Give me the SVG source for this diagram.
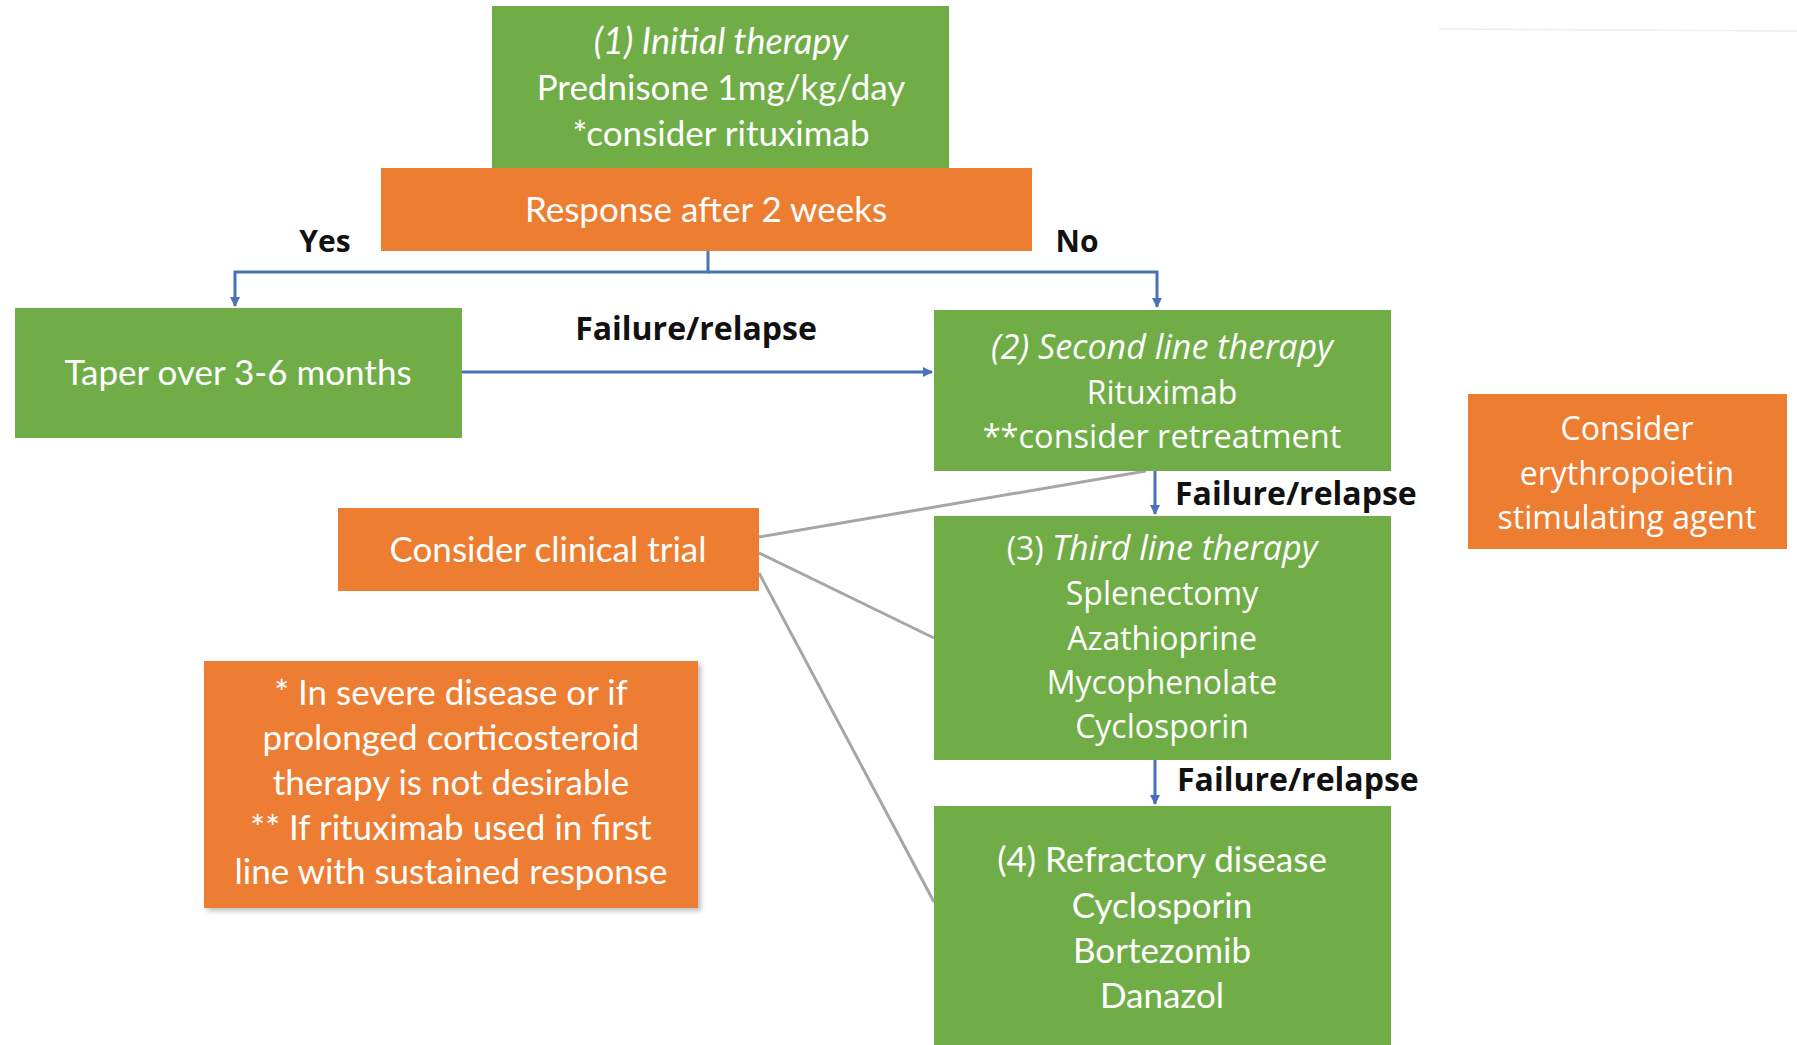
<svg xmlns="http://www.w3.org/2000/svg" width="1797" height="1045" viewBox="0 0 1797 1045">
<defs>
<style>
.g{fill:#70AD47}
.o{fill:#ED7D31}
.c{font-family:Lato,"Liberation Sans",sans-serif;fill:#fff;text-anchor:middle}
.s{font-family:"Open Sans","Liberation Sans",sans-serif;fill:#fff;text-anchor:middle}
.b{font-family:"Open Sans","Liberation Sans",sans-serif;font-weight:bold;fill:#111;}
.i{font-style:italic}
.con{stroke:#4A72B8;stroke-width:3;fill:none}
.gr{stroke:#A6A6A6;stroke-width:3;fill:none}
</style>
<marker id="ah" viewBox="0 0 10 10" refX="9" refY="5" markerWidth="3.4" markerHeight="3.4" orient="auto">
<path d="M0,0 L10,5 L0,10 z" fill="#4A72B8"/>
</marker>
<filter id="sh" x="-5%" y="-5%" width="115%" height="115%">
<feDropShadow dx="3" dy="3" stdDeviation="2.5" flood-color="#000" flood-opacity="0.25"/>
</filter>
</defs>
<rect width="1797" height="1045" fill="#fff"/>
<line x1="1439" y1="29" x2="1797" y2="31" stroke="#EEEEEE" stroke-width="1.5"/>

<g id="connectors">
<path class="con" d="M708,251 V272 H235 V306" marker-end="url(#ah)"/>
<path class="con" d="M708,272 H1157 V307" marker-end="url(#ah)"/>
<path class="con" d="M462,372 H932" marker-end="url(#ah)"/>
<path class="con" d="M1155,471 V514" marker-end="url(#ah)"/>
<path class="con" d="M1155,760 V804" marker-end="url(#ah)"/>
<path class="gr" d="M759,537 L1146,471"/>
<path class="gr" d="M759,553 L934,638"/>
<path class="gr" d="M759,573 L934,902"/>
<text class="b" x="325" y="252" font-size="30" text-anchor="middle">Yes</text>
<text class="b" x="1077" y="252" font-size="30" text-anchor="middle">No</text>
<text class="b" x="696" y="340" font-size="32" text-anchor="middle">Failure/relapse</text>
<text class="b" x="1175" y="505" font-size="32">Failure/relapse</text>
<text class="b" x="1177" y="791" font-size="32">Failure/relapse</text>
</g>

<g id="n1">
<rect class="g" x="492" y="6" width="457" height="163"/>
<text class="c i" x="721" y="54" font-size="36">(1) Initial therapy</text>
<text class="c" x="721" y="100" font-size="35">Prednisone 1mg/kg/day</text>
<text class="c" x="721" y="146" font-size="35">*consider rituximab</text>
</g>
<g id="response">
<rect class="o" x="381" y="168" width="651" height="83"/>
<text class="c" x="706" y="222" font-size="35">Response after 2 weeks</text>
</g>
<g id="taper">
<rect class="g" x="15" y="308" width="447" height="130"/>
<text class="c" x="238" y="385" font-size="35">Taper over 3-6 months</text>
</g>
<g id="n2">
<rect class="g" x="934" y="310" width="457" height="161"/>
<text class="s i" x="1162" y="359" font-size="34">(2) Second line therapy</text>
<text class="s" x="1162" y="404" font-size="32">Rituximab</text>
<text class="s" x="1162" y="448" font-size="32.5">**consider retreatment</text>
</g>
<g id="n3">
<rect class="g" x="934" y="516" width="457" height="244"/>
<text class="s" x="1162" y="560" font-size="32">(3) <tspan class="i" font-size="34">Third line therapy</tspan></text>
<text class="s" x="1162" y="605" font-size="32">Splenectomy</text>
<text class="s" x="1162" y="650" font-size="32">Azathioprine</text>
<text class="s" x="1162" y="694" font-size="32">Mycophenolate</text>
<text class="s" x="1162" y="738" font-size="32">Cyclosporin</text>
</g>
<g id="n4">
<rect class="g" x="934" y="806" width="457" height="239"/>
<text class="c" x="1162" y="872" font-size="35">(4) Refractory disease</text>
<text class="c" x="1162" y="918" font-size="35">Cyclosporin</text>
<text class="c" x="1162" y="963" font-size="35">Bortezomib</text>
<text class="c" x="1162" y="1008" font-size="35">Danazol</text>
</g>
<g id="trial">
<rect class="o" x="338" y="508" width="421" height="83"/>
<text class="c" x="548" y="562" font-size="35">Consider clinical trial</text>
</g>
<g id="note">
<rect class="o" x="204" y="661" width="494" height="247" filter="url(#sh)"/>
<text class="c" x="451" y="705" font-size="35">* In severe disease or if</text>
<text class="c" x="451" y="750" font-size="35">prolonged corticosteroid</text>
<text class="c" x="451" y="795" font-size="35">therapy is not desirable</text>
<text class="c" x="451" y="840" font-size="35">** If rituximab used in first</text>
<text class="c" x="451" y="884" font-size="35">line with sustained response</text>
</g>
<g id="epo">
<rect class="o" x="1468" y="394" width="319" height="155"/>
<text class="s" x="1627" y="440" font-size="32">Consider</text>
<text class="s" x="1627" y="485" font-size="32">erythropoietin</text>
<text class="s" x="1627" y="529" font-size="32">stimulating agent</text>
</g>
</svg>
